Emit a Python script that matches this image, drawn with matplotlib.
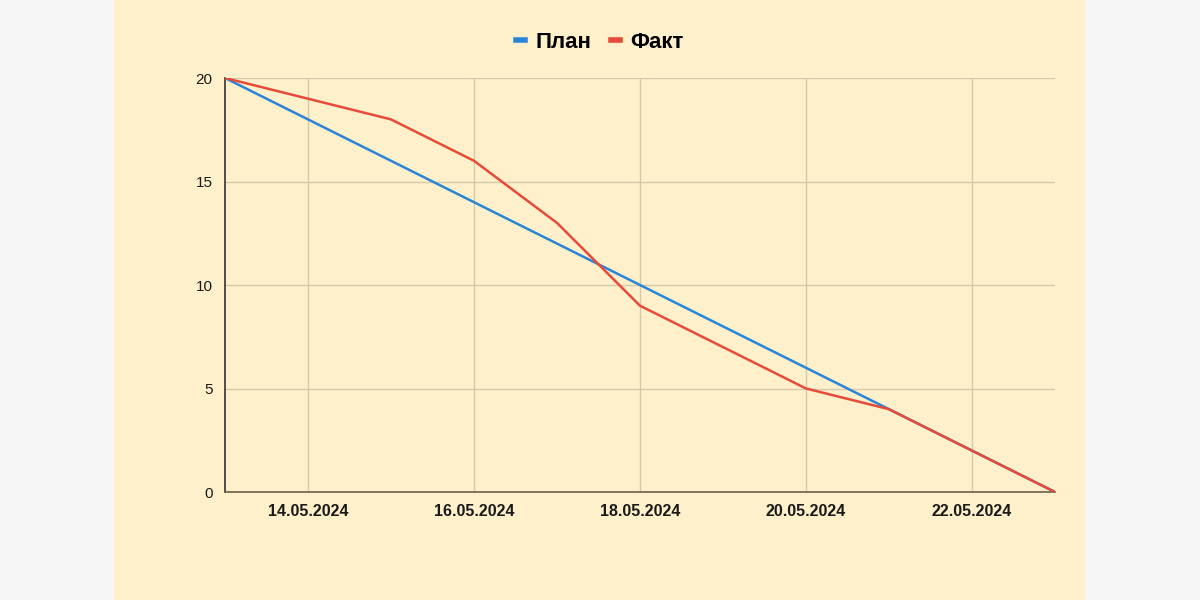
import matplotlib.pyplot as plt
import matplotlib.dates as mdates
from matplotlib.patches import Rectangle
import datetime as dt

# ================= Data =================
dates = [dt.date(2024, 5, d) for d in range(13, 24)]
plan = [20, 18, 16, 14, 12, 10, 8, 6, 4, 2, 0]
fact = [20, 19, 18, 16, 13, 9, 7, 5, 4, 2, 0]
y_ticks = [0, 5, 10, 15, 20]

# ================= Style =================
plt.rcParams['font.family'] = ['Liberation Sans', 'DejaVu Sans']
cream = '#fef0ca'
grid_col = '#d6c9ab'

fig = plt.figure(figsize=(12, 6), dpi=100)
fig.patch.set_facecolor('#f6f6f6')
fig.patches.append(Rectangle((114 / 1200, 0), (1085 - 114) / 1200, 1,
                             transform=fig.transFigure, facecolor=cream,
                             edgecolor='none', zorder=-5))

ax = fig.add_axes([225 / 1200, 108 / 600, 830 / 1200, 414 / 600])
ax.set_zorder(2)
ax.set_facecolor(cream)

ax.plot(dates, plan, color='#2a84d8', lw=1.8, label='План', zorder=3)
ax.plot(dates, fact, color='#e84a3a', lw=1.8, label='Факт', zorder=4)

ax.set_xlim(dates[0], dates[-1])
ax.set_ylim(0, 20)
ax.set_yticks(y_ticks)
ax.xaxis.set_major_locator(mdates.DayLocator(bymonthday=[14, 16, 18, 20, 22]))
ax.xaxis.set_major_formatter(mdates.DateFormatter('%d.%m.%Y'))

ax.grid(True, color=grid_col, lw=1)
ax.set_axisbelow(True)
for s in ['top', 'right']:
    ax.spines[s].set_visible(False)
ax.spines['left'].set_color('#333333')
ax.spines['bottom'].set_color('#6b604a')
ax.spines['left'].set_linewidth(1.2)
ax.spines['bottom'].set_linewidth(1.2)
ax.tick_params(axis='x', length=0, pad=9)
ax.tick_params(axis='y', length=0, pad=9)
for lbl in ax.get_xticklabels():
    lbl.set_fontsize(11.5)
    lbl.set_fontweight('bold')
    lbl.set_color('#1a1a1a')
for lbl in ax.get_yticklabels():
    lbl.set_fontsize(11)
    lbl.set_color('#1a1a1a')

leg = fig.legend(loc='center', bbox_to_anchor=(0.5, 1 - 42 / 600), ncol=2,
                 frameon=False, handlelength=0.4, handletextpad=0.45,
                 columnspacing=0.9, prop={'weight': 'bold', 'size': 16})
for h in leg.get_lines():
    h.set_linewidth(4)

fig.savefig('out.png', dpi=100, facecolor=fig.get_facecolor())
